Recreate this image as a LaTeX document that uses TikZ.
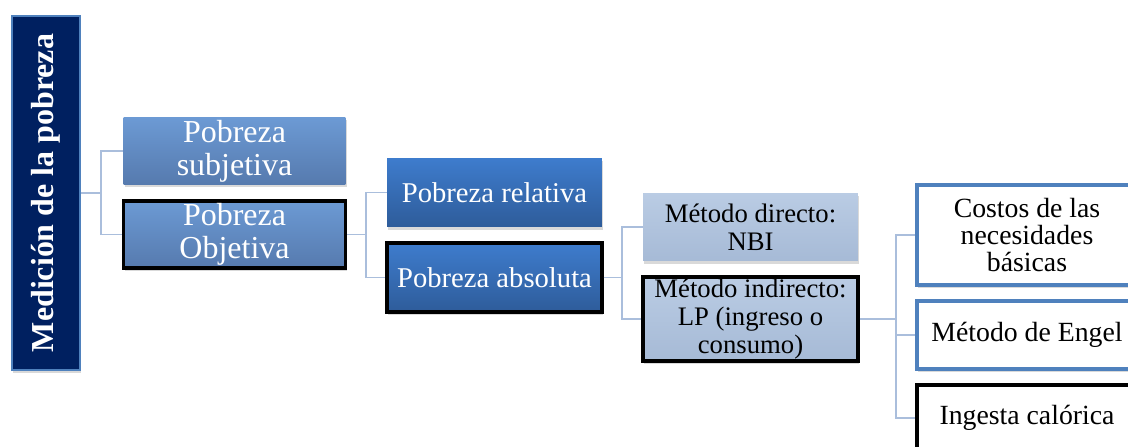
\documentclass[tikz,border=0pt]{standalone}
\usepackage{fontspec}
\setmainfont{Liberation Serif}
\usetikzlibrary{shadows}

\definecolor{navy}{RGB}{0,32,96}
\definecolor{frameblue}{RGB}{79,129,189}
\definecolor{lineblue}{RGB}{170,190,220}
\definecolor{midtop}{RGB}{108,154,212}
\definecolor{midbot}{RGB}{86,122,174}
\definecolor{deeptop}{RGB}{62,124,205}
\definecolor{deepbot}{RGB}{46,92,154}
\definecolor{paletop}{RGB}{186,204,228}
\definecolor{palebot}{RGB}{166,186,214}

\begin{document}
\begin{tikzpicture}[x=0.02cm, y=-0.02cm,
    conn/.style={draw=lineblue, line width=1.1pt},
    shade/.style={drop shadow={shadow xshift=0.6pt, shadow yshift=-1.6pt, opacity=0.3}},
    rootbox/.style={fill=navy, draw=frameblue, line width=1pt, text=white, rotate=90,
        minimum width=7.08cm, minimum height=1.36cm, inner sep=0pt, shade,
        font=\fontsize{18.2}{19}\selectfont\bfseries},
    lvlone/.style={top color=midtop, bottom color=midbot, text=white, align=center,
        minimum width=4.44cm, minimum height=1.34cm, inner sep=0pt, shade,
        font=\fontsize{18.2}{18.8}\selectfont},
    lvltwo/.style={top color=deeptop, bottom color=deepbot, text=white, align=center,
        minimum width=4.3cm, minimum height=1.38cm, inner sep=0pt, shade,
        font=\fontsize{16.3}{18}\selectfont},
    lvlthree/.style={top color=paletop, bottom color=palebot, text=black, align=center,
        minimum width=4.3cm, inner sep=0pt, shade,
        font=\fontsize{15.2}{16}\selectfont},
    lvlfour/.style={fill=white, draw=frameblue, line width=2.1pt, text=black, align=center,
        minimum width=4.4cm, inner sep=0pt, shade,
        font=\fontsize{15.8}{15.6}\selectfont},
    marked/.style={draw=black, line width=2pt}]

    \useasboundingbox (0,0) rectangle (1128,446);

    % Raíz
    \node[rootbox] (root) at (46,193) {Medición de la pobreza};

    % Primer nivel
    \node[lvlone] (subj) at (234.5,151) {Pobreza\\subjetiva};
    \node[lvlone, marked] (obj) at (234.5,234.5) {Pobreza\\Objetiva};

    % Segundo nivel
    \node[lvltwo] (rel) at (494.5,192.5) {Pobreza relativa};
    \node[lvltwo, marked] (abs) at (494.5,277.5) {Pobreza absoluta};

    % Tercer nivel
    \node[lvlthree, minimum height=1.36cm] (dir) at (750.5,227) {Método directo:\\NBI};
    \node[lvlthree, marked, minimum height=1.68cm] (ind) at (750.5,319) {Método indirecto:\\LP (ingreso o\\consumo)};

    % Cuarto nivel
    \node[lvlfour, minimum height=2cm] (cost) at (1027,235) {Costos de las\\necesidades\\básicas};
    \node[lvlfour, minimum height=1.36cm] (eng) at (1027,335) {Método de Engel};
    \node[lvlfour, marked, minimum height=1.32cm] (ing) at (1027,418) {Ingesta calórica};

    % Conectores
    \coordinate (j1) at (101,193);
    \draw[conn] (root.south) -- (j1);
    \draw[conn] (subj.west) -| (j1) |- (obj.west);

    \coordinate (j2) at (366,234.5);
    \draw[conn] (obj.east) -- (j2);
    \draw[conn] (rel.west) -| (j2) |- (abs.west);

    \coordinate (j3) at (622,277.5);
    \draw[conn] (abs.east) -- (j3);
    \draw[conn] (dir.west) -| (j3) |- (ind.west);

    \coordinate (j4) at (896,319);
    \draw[conn] (ind.east) -- (j4);
    \draw[conn] (cost.west) -| (j4) |- (ing.west);
    \draw[conn] (eng.west) -- (eng.west -| j4);

\end{tikzpicture}
\end{document}
